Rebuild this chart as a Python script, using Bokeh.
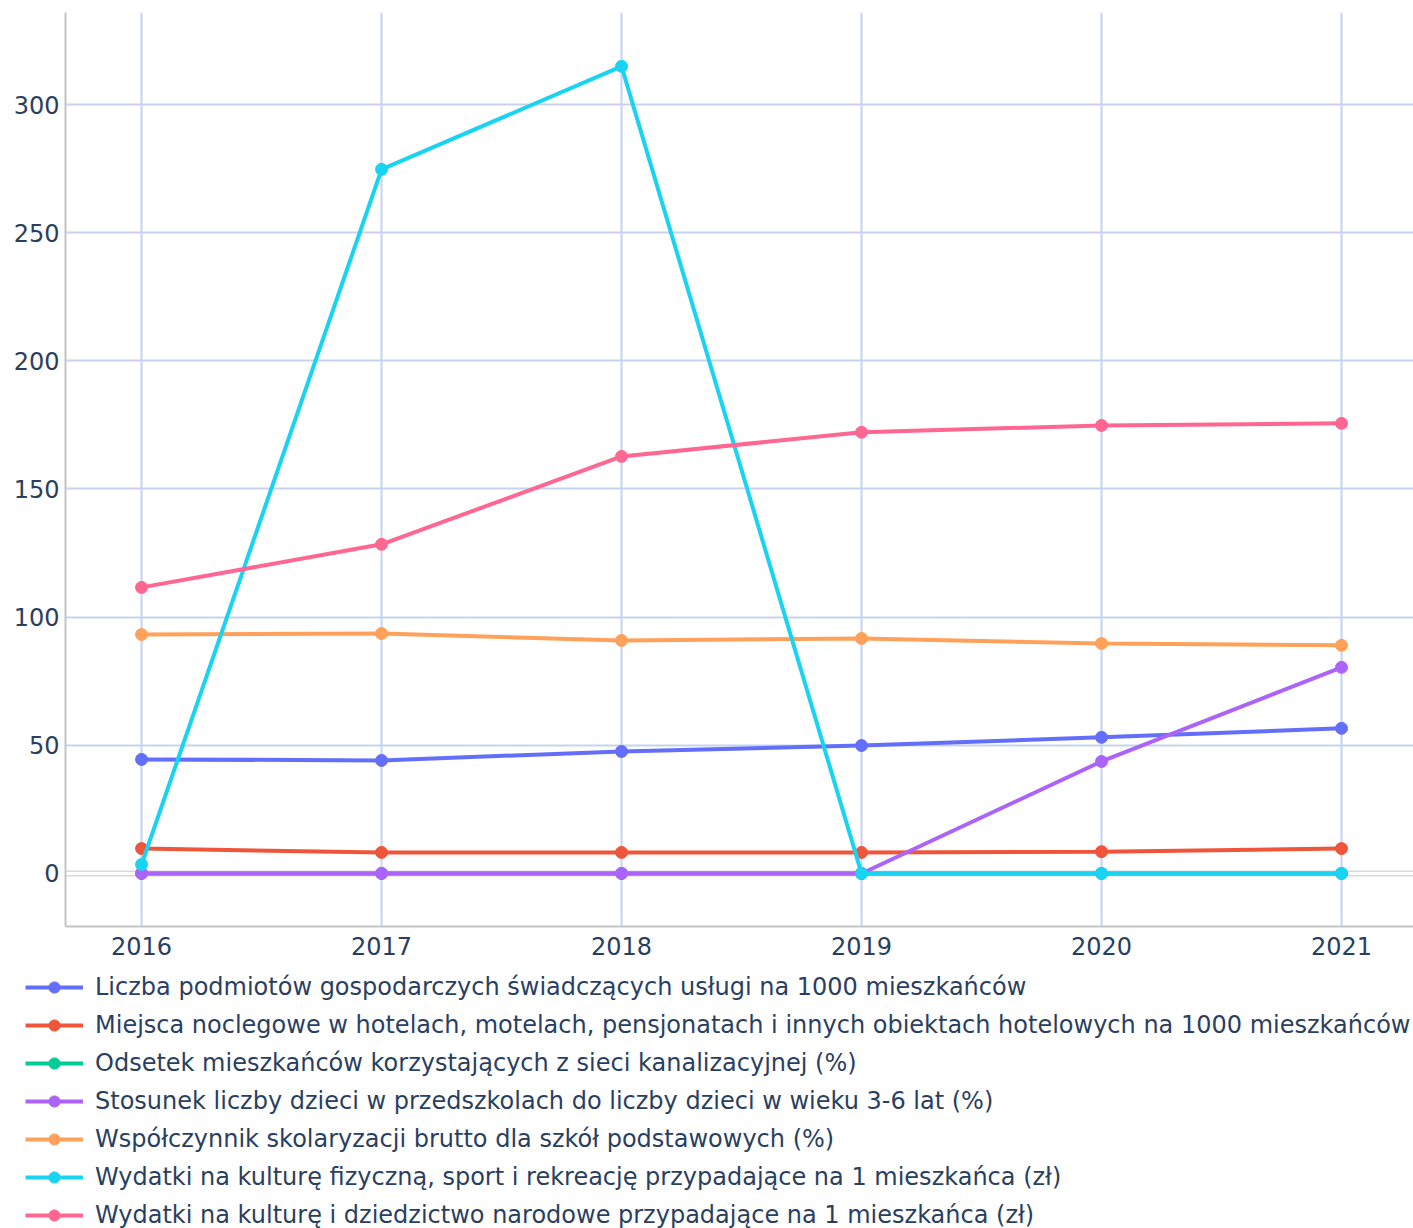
from bokeh.plotting import figure
from bokeh.models import Legend, LegendItem, Span, FixedTicker, Range1d
from bokeh.embed import file_html
from bokeh.resources import INLINE

years = [2016, 2017, 2018, 2019, 2020, 2021]

names = [
    "Liczba podmiotów gospodarczych świadczących usługi na 1000 mieszkańców",
    "Miejsca noclegowe w hotelach, motelach, pensjonatach i innych obiektach hotelowych na 1000 mieszkańców",
    "Odsetek mieszkańców korzystających z sieci kanalizacyjnej (%)",
    "Stosunek liczby dzieci w przedszkolach do liczby dzieci w wieku 3-6 lat (%)",
    "Współczynnik skolaryzacji brutto dla szkół podstawowych (%)",
    "Wydatki na kulturę fizyczną, sport i rekreację przypadające na 1 mieszkańca (zł)",
    "Wydatki na kulturę i dziedzictwo narodowe przypadające na 1 mieszkańca (zł)",
]

podmioty = [44.5, 44.1, 47.6, 49.9, 53.1, 56.6]
noclegi = [9.7, 8.2, 8.2, 8.2, 8.5, 9.7]
kanalizacja = [0, 0, 0, 0, 0, 0]
przedszkola = [0, 0, 0, 0, 43.7, 80.4]
skolaryzacja = [93.2, 93.6, 90.9, 91.7, 89.7, 89.0]
sport = [3.5, 274.7, 314.9, 0, 0, 0]
kultura = [111.6, 128.4, 162.7, 172.1, 174.8, 175.6]

series = [podmioty, noclegi, kanalizacja, przedszkola, skolaryzacja, sport, kultura]
colors = ["#636efa", "#EF553B", "#00cc96", "#ab63fa", "#FFA15A", "#19d3f3", "#FF6692"]

y_ticks = [0, 50, 100, 150, 200, 250, 300]

FONT = "DejaVu Sans"
TXT = "#2a3f5f"

p = figure(width=1413, height=968, output_backend="svg", toolbar_location=None,
           x_range=Range1d(2015.683, 2021.3), y_range=Range1d(-20.7, 335.9),
           min_border_left=65, min_border_right=0, min_border_top=12, min_border_bottom=42)
p.outline_line_color = None
p.background_fill_color = "white"

for ax in (p.xaxis[0], p.yaxis[0]):
    ax.axis_line_color = "#c4c4c4"
    ax.axis_line_width = 2
    ax.major_tick_line_color = None
    ax.minor_tick_line_color = None
    ax.major_tick_out = 0
    ax.major_tick_in = 0
    ax.major_label_text_font = FONT
    ax.major_label_text_font_size = "24px"
    ax.major_label_text_color = TXT

p.xaxis.ticker = FixedTicker(ticks=years)
p.yaxis.ticker = FixedTicker(ticks=y_ticks)
p.xaxis.major_label_standoff = 10
p.yaxis.major_label_standoff = 6

p.xgrid.grid_line_color = "#c6d3f0"
p.xgrid.grid_line_width = 2
p.ygrid.grid_line_color = "#c6d3f0"
p.ygrid.grid_line_width = 2

p.add_layout(Span(location=0, dimension="width", line_color="#dadada", line_width=6, level="underlay"))
p.add_layout(Span(location=0, dimension="width", line_color="white", line_width=3, level="underlay"))

for vals, col in zip(series, colors):
    p.line(years, vals, line_color=col, line_width=4)
    p.scatter(years, vals, fill_color=col, line_color=col, size=12)

# legend panel below the chart (separate root, hidden data range)
lg = figure(width=1413, height=260, output_backend="svg", toolbar_location=None,
            x_axis_location=None, y_axis_location=None,
            x_range=Range1d(0, 1), y_range=Range1d(5000, 5001),
            min_border_left=0, min_border_right=0, min_border_top=0, min_border_bottom=0)
lg.grid.visible = False
lg.outline_line_color = None

items = []
for name, vals, col in zip(names, series, colors):
    r1 = lg.line(years, vals, line_color=col, line_width=4)
    r2 = lg.scatter(years, vals, fill_color=col, line_color=col, size=12)
    items.append(LegendItem(label=name, renderers=[r1, r2]))

legend = Legend(items=items, location=(25, -1), orientation="vertical",
                glyph_width=58, glyph_height=28, label_height=28, spacing=10,
                label_standoff=12, padding=0, margin=0,
                label_text_font=FONT, label_text_font_size="24px", label_text_color=TXT,
                background_fill_alpha=0, border_line_alpha=0)
lg.add_layout(legend, "center")

open("out.html", "w").write(file_html([p, lg], INLINE))
